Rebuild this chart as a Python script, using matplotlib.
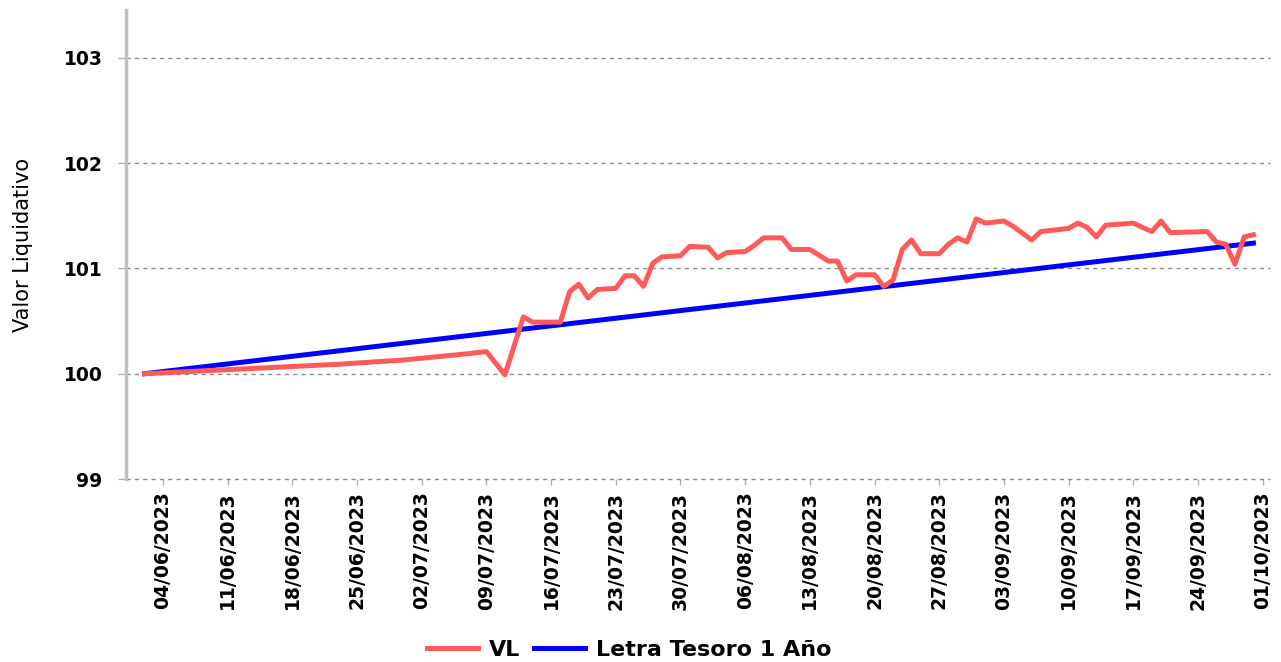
import pandas as pd
import matplotlib
matplotlib.use('Agg')
import matplotlib.pyplot as plt
import matplotlib.dates as mdates

# VL (valor liquidativo) series
vl_dates = ['2023-06-02', '2023-06-09', '2023-06-16', '2023-06-23', '2023-06-30',
            '2023-07-07', '2023-07-09', '2023-07-11', '2023-07-13', '2023-07-14',
            '2023-07-17', '2023-07-18', '2023-07-19', '2023-07-20', '2023-07-21',
            '2023-07-23', '2023-07-24', '2023-07-25', '2023-07-26', '2023-07-27',
            '2023-07-28', '2023-07-30', '2023-07-31', '2023-08-02', '2023-08-03',
            '2023-08-04', '2023-08-06', '2023-08-07', '2023-08-08', '2023-08-10',
            '2023-08-11', '2023-08-13', '2023-08-15', '2023-08-16', '2023-08-17',
            '2023-08-18', '2023-08-20', '2023-08-21', '2023-08-22', '2023-08-23',
            '2023-08-24', '2023-08-25', '2023-08-27', '2023-08-28', '2023-08-29',
            '2023-08-30', '2023-08-31', '2023-09-01', '2023-09-03', '2023-09-04',
            '2023-09-06', '2023-09-07', '2023-09-10', '2023-09-11', '2023-09-12',
            '2023-09-13', '2023-09-14', '2023-09-17', '2023-09-19', '2023-09-20',
            '2023-09-21', '2023-09-25', '2023-09-26', '2023-09-27', '2023-09-28',
            '2023-09-29', '2023-09-30']
vl_values = [100.00, 100.03, 100.06, 100.09, 100.13,
             100.19, 100.21, 99.99, 100.54, 100.49,
             100.49, 100.78, 100.85, 100.72, 100.80,
             100.81, 100.93, 100.93, 100.83, 101.05,
             101.11, 101.12, 101.21, 101.20, 101.10,
             101.15, 101.16, 101.22, 101.29, 101.29,
             101.18, 101.18, 101.07, 101.07, 100.88,
             100.94, 100.94, 100.83, 100.89, 101.18,
             101.27, 101.14, 101.14, 101.23, 101.29,
             101.25, 101.47, 101.43, 101.45, 101.40,
             101.27, 101.35, 101.38, 101.43, 101.39,
             101.30, 101.41, 101.43, 101.35, 101.45,
             101.34, 101.35, 101.25, 101.23, 101.04,
             101.30, 101.32]

# Letra Tesoro 1 Año benchmark
lt_dates = ['2023-06-02', '2023-09-30']
lt_values = [100.00, 101.24]

tick_dates = pd.date_range('2023-06-04', '2023-10-01', freq='7D')
y_ticks = [99, 100, 101, 102, 103]

vl_x = pd.to_datetime(vl_dates)
lt_x = pd.to_datetime(lt_dates)

fig = plt.figure(figsize=(12.81, 6.62), dpi=100)
ax = fig.add_axes([0.0984, 0.2764, 0.893, 0.7085])

ax.plot(lt_x, lt_values, color='#0000ff', lw=3.6, label='Letra Tesoro 1 Año', zorder=3)
ax.plot(vl_x, vl_values, color='#ff5a5a', lw=3.6, label='VL', zorder=4)

ax.set_xlim(pd.Timestamp('2023-05-31'), pd.Timestamp('2023-10-01 19:00'))
ax.set_ylim(99, 103.454)

ax.set_yticks(y_ticks)
ax.set_yticklabels([str(v) for v in y_ticks])
ax.set_xticks(tick_dates)
ax.xaxis.set_major_formatter(mdates.DateFormatter('%d/%m/%Y'))
plt.setp(ax.get_xticklabels(), rotation=90, ha='center', va='top', fontweight='bold')
plt.setp(ax.get_yticklabels(), fontweight='bold')

ax.grid(axis='y', color='#8a8a8a', lw=1, linestyle=(0, (3, 3)))
ax.grid(axis='x', visible=False)
for gl in ax.get_ygridlines():
    gl.set_clip_on(False)
ax.set_axisbelow(True)

for s in ['top', 'right', 'bottom']:
    ax.spines[s].set_visible(False)
ax.spines['left'].set_color('#c0c0c0')
ax.spines['left'].set_linewidth(2.5)

ax.tick_params(axis='y', colors='#b0b0b0', length=6, width=1, pad=11,
               labelcolor='black', labelsize=13.5)
ax.tick_params(axis='x', colors='#b0b0b0', length=4, width=1, pad=5,
               labelcolor='black', labelsize=13.5)

ax.set_ylabel('Valor Liquidativo', fontsize=15)
ax.yaxis.set_label_coords(-0.081, 0.5)

handles, labels = ax.get_legend_handles_labels()
fig.legend(handles[::-1], labels[::-1], loc='center', bbox_to_anchor=(0.491, 0.018),
           ncol=2, frameon=False, prop={'size': 16, 'weight': 'bold'},
           handlelength=2.3, handletextpad=0.5, columnspacing=0.6, borderpad=0)

plt.savefig('out.png', dpi=100)
